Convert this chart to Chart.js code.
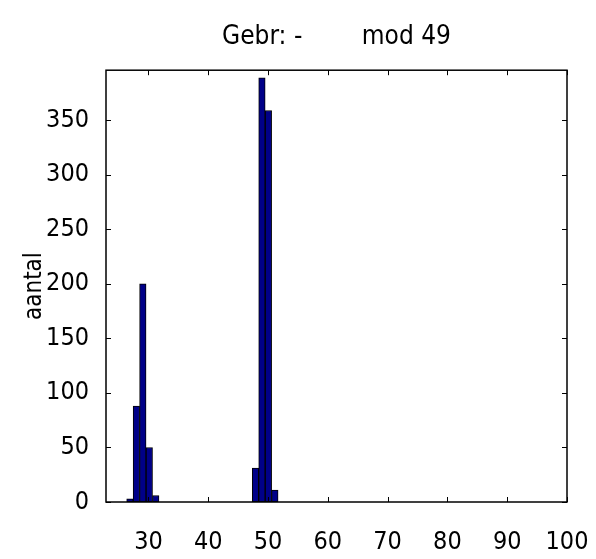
<!DOCTYPE html>
<html>
<head>
<meta charset="utf-8">
<script src="https://cdn.jsdelivr.net/npm/chart.js@4/dist/chart.umd.min.js"></script>
<style>
  html, body { margin: 0; padding: 0; background: #ffffff; }
  canvas { display: block; }
</style>
</head>
<body>
<canvas id="c" width="596" height="559"></canvas>
<script>
// Histogram bin centres (x) and counts (aantal)
const binCenters = [26.90, 27.98, 29.06, 30.14, 31.22, 47.90, 48.98, 50.06, 51.14];
const counts     = [3, 88, 200, 50, 6, 31, 389, 359, 11];
const xTickValues = [30, 40, 50, 60, 70, 80, 90, 100];
const yTickValues = [0, 50, 100, 150, 200, 250, 300, 350];
const titleText = 'Gebr: -        mod 49';
const yLabel = 'aantal';

const FONT = "'Liberation Sans Narrow', 'DejaVu Sans Condensed', 'Arial Narrow', sans-serif";

const points = binCenters.map((c, i) => ({ x: c, y: counts[i] }));

const framePlugin = {
  id: 'frame',
  afterDatasetsDraw(chart) {
    const { ctx, chartArea: a, scales: { x, y } } = chart;
    const L = 5;
    ctx.save();
    ctx.strokeStyle = '#000';
    ctx.lineWidth = 1;
    x.ticks.forEach(t => {
      const px = Math.round(x.getPixelForValue(t.value)) + 0.5;
      ctx.beginPath();
      ctx.moveTo(px, a.bottom); ctx.lineTo(px, a.bottom - L);
      ctx.moveTo(px, a.top); ctx.lineTo(px, a.top + L);
      ctx.stroke();
    });
    y.ticks.forEach(t => {
      const py = Math.round(y.getPixelForValue(t.value)) + 0.5;
      ctx.beginPath();
      ctx.moveTo(a.left, py); ctx.lineTo(a.left + L, py);
      ctx.moveTo(a.right, py); ctx.lineTo(a.right - L, py);
      ctx.stroke();
    });
    ctx.lineWidth = 1.5;
    ctx.strokeRect(a.left, a.top, a.right - a.left, a.bottom - a.top);
    ctx.restore();
  }
};

const bgPlugin = {
  id: 'bg',
  beforeDraw(chart) {
    const { ctx } = chart;
    ctx.save();
    ctx.fillStyle = '#ffffff';
    ctx.fillRect(0, 0, chart.width, chart.height);
    ctx.restore();
  }
};

new Chart(document.getElementById('c'), {
  type: 'bar',
  data: {
    datasets: [{
      data: points,
      backgroundColor: '#000088',
      borderColor: '#000000',
      borderWidth: 1,
      borderSkipped: false,
      barPercentage: 1.0,
      categoryPercentage: 1.0
    }]
  },
  options: {
    responsive: false,
    animation: false,
    layout: { padding: { left: 0, right: 29, top: 0, bottom: 0 } },
    plugins: {
      legend: { display: false },
      tooltip: { enabled: false },
      title: {
        display: true,
        fullSize: false,
        text: titleText,
        color: '#000',
        font: { family: FONT, size: 26, weight: 'normal' },
        padding: { top: 22, bottom: 17 }
      }
    },
    scales: {
      x: {
        type: 'linear',
        min: 22.9,
        max: 100,
        offset: false,
        grid: { display: false, drawTicks: false },
        border: { display: false },
        afterBuildTicks: s => { s.ticks = xTickValues.map(v => ({ value: v })); },
        afterFit: s => { s.height = 57; s.paddingLeft = 0; s.paddingRight = 0; },
        ticks: {
          color: '#000',
          padding: 25,
          maxRotation: 0,
          autoSkip: false,
          font: { family: FONT, size: 25 },
          callback: v => String(v)
        }
      },
      y: {
        min: 0,
        max: 396,
        grid: { display: false, drawTicks: false },
        border: { display: false },
        afterBuildTicks: s => { s.ticks = yTickValues.map(v => ({ value: v })); },
        afterFit: s => { s.width = 106; s.paddingTop = 0; s.paddingBottom = 0; },
        title: {
          display: true,
          text: yLabel,
          color: '#000',
          font: { family: FONT, size: 24 },
          padding: { top: 20, bottom: 0 }
        },
        ticks: {
          color: '#000',
          padding: 17,
          autoSkip: false,
          font: { family: FONT, size: 25 },
          callback: v => String(v)
        }
      }
    }
  },
  plugins: [bgPlugin, framePlugin]
});
</script>
</body>
</html>
